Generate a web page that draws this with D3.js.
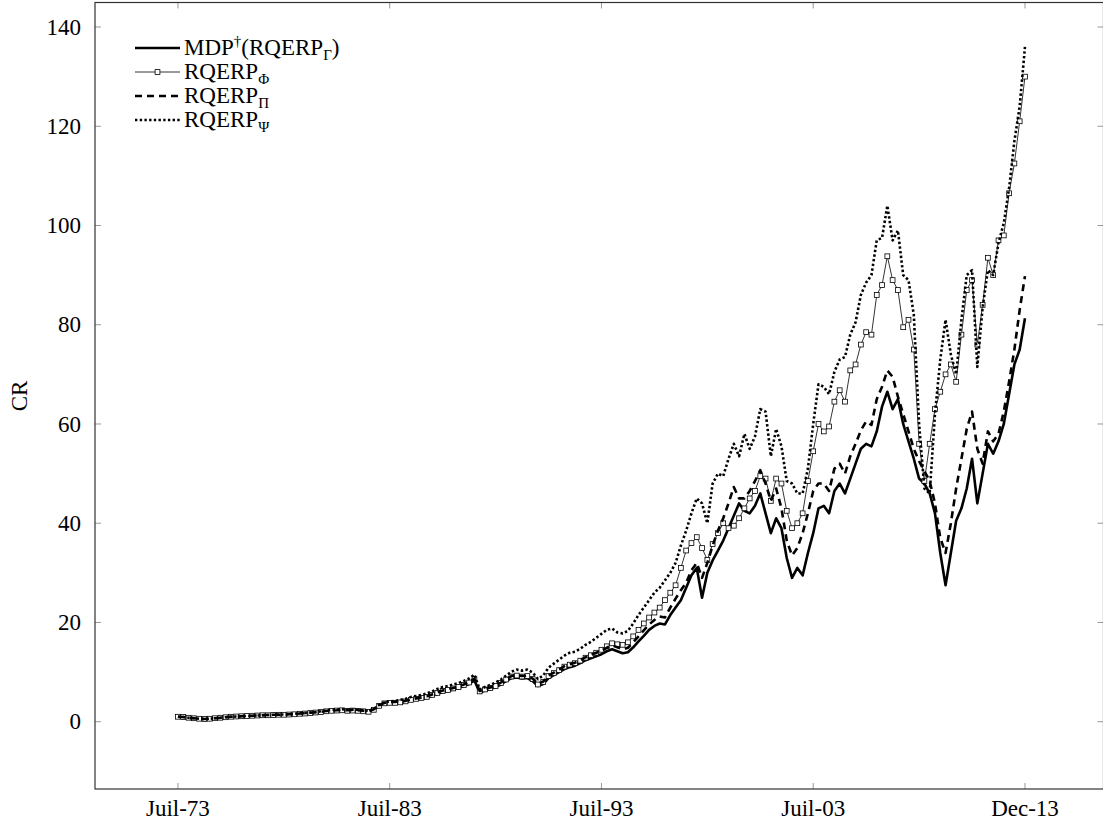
<!DOCTYPE html>
<meta charset="utf-8">
<script src="https://d3js.org/d3.v7.min.js"></script>
<style>
body { margin: 0; background: #fff; }
svg text { font-family: "Liberation Serif", "Times New Roman", serif; fill: #000; }
</style>
<div id="chart"></div>
<script>
// month index of each plotted point (quarterly, Jul-73 = 0)
const months = d3.range(0, 481, 3);
const tickMonths = [0, 120, 240, 360, 480];
const tickLabels = ['Juil-73', 'Juil-83', 'Juil-93', 'Juil-03', 'Dec-13'];
const yTicks = [0, 20, 40, 60, 80, 100, 120, 140];

// cumulative return
const mdp = [
	1.0, 0.95, 0.8, 0.7, 0.6, 0.55, 0.6, 0.7, 0.8, 0.9, 1.0, 1.05, 1.1, 1.15, 1.2, 1.25, 1.3, 1.3, 1.35, 1.4,
	1.4, 1.45, 1.5, 1.6, 1.65, 1.75, 1.85, 1.95, 2.1, 2.2, 2.25, 2.3, 2.2, 2.25, 2.2, 2.1, 2.0, 2.4, 3.2, 3.7,
	3.8, 3.8, 3.9, 4.0, 4.3, 4.5, 4.6, 4.8, 5.2, 5.6, 6.0, 6.2, 6.5, 6.8, 7.2, 7.6, 8.3, 5.9, 6.3, 6.6,
	7.0, 7.5, 8.2, 8.8, 8.9, 8.7, 8.8, 8.2, 7.2, 7.6, 8.8, 9.4, 10.0, 10.6, 11.0, 11.3, 11.8, 12.4, 12.8, 13.2,
	13.6, 14.2, 14.6, 14.2, 13.8, 14.0, 15.0, 16.2, 17.3, 18.5, 19.3, 19.8, 19.6, 21.5, 23.0, 24.5,
	27.0, 29.5, 31.0, 25.0, 30.0, 32.5, 34.5, 36.5, 39.0, 41.5, 44.0, 42.5, 42.0, 43.5, 46.0, 42.0, 38.0, 41.0, 39.0, 33.0,
	29.0, 31.0, 29.5, 34.0, 38.0, 43.0, 43.5, 42.0, 46.5, 48.0, 46.0, 49.0, 52.0, 55.0, 56.0, 55.5, 58.5, 63.5, 66.5, 63.0,
	65.0, 60.0, 56.5, 53.0, 49.0, 48.0, 46.0, 42.0, 34.0, 27.5, 34.0, 40.5, 43.0, 47.0, 53.0, 44.0, 50.0, 56.0, 54.0, 56.5,
	60.0, 66.0, 72.0, 75.0, 81.3
];
const rqerpPhi = [
	1.0, 0.95, 0.8, 0.7, 0.6, 0.55, 0.6, 0.7, 0.8, 0.9, 1.0, 1.05, 1.1, 1.15, 1.2, 1.25, 1.3, 1.3, 1.35, 1.4,
	1.4, 1.45, 1.5, 1.6, 1.65, 1.75, 1.85, 1.95, 2.1, 2.2, 2.25, 2.3, 2.2, 2.25, 2.2, 2.1, 2.0, 2.4, 3.2, 3.7,
	3.8, 3.8, 3.9, 4.1, 4.4, 4.6, 4.8, 5.0, 5.4, 5.8, 6.2, 6.4, 6.7, 7.0, 7.4, 7.9, 8.6, 6.1, 6.5, 6.8,
	7.2, 7.8, 8.5, 9.1, 9.3, 9.1, 9.2, 8.6, 7.5, 8.0, 9.2, 9.8, 10.4, 11.1, 11.5, 11.8, 12.3, 12.9, 13.4, 13.9,
	14.5, 15.2, 15.8, 15.6, 15.5, 16.0, 17.2, 18.5, 19.8, 21.0, 22.0, 23.0, 24.5, 26.0, 27.5, 31.0,
	34.5, 36.0, 37.2, 35.0, 32.6, 35.8, 38.0, 40.0, 39.0, 39.5, 41.0, 43.0, 45.0, 46.5, 49.5, 49.0, 44.5, 49.0, 48.0, 42.5,
	39.0, 40.0, 42.0, 48.5, 54.5, 60.0, 58.5, 59.5, 64.5, 66.8, 64.5, 70.8, 72.0, 76.0, 78.5, 78.0, 86.0, 88.0, 93.8, 89.0,
	87.0, 79.5, 81.0, 75.0, 56.0, 48.5, 56.0, 63.0, 66.5, 70.0, 72.0, 68.5, 78.0, 87.0, 89.0, 76.0, 84.0, 93.5, 90.0, 97.0,
	98.0, 106.5, 112.5, 121.0, 130.0
];
const rqerpPi = [
	1.0, 0.95, 0.8, 0.7, 0.6, 0.55, 0.6, 0.7, 0.8, 0.9, 1.0, 1.05, 1.1, 1.15, 1.2, 1.25, 1.3, 1.35, 1.4, 1.4,
	1.45, 1.5, 1.55, 1.65, 1.7, 1.8, 1.9, 2.0, 2.15, 2.25, 2.3, 2.4, 2.3, 2.35, 2.3, 2.2, 2.1, 2.5, 3.3, 3.8,
	4.0, 4.0, 4.1, 4.2, 4.5, 4.7, 4.9, 5.1, 5.5, 5.9, 6.3, 6.5, 6.8, 7.1, 7.5, 8.0, 8.7, 6.2, 6.6, 6.9,
	7.3, 7.9, 8.6, 9.2, 9.4, 9.2, 9.3, 8.7, 7.6, 8.1, 9.3, 9.9, 10.5, 11.2, 11.6, 11.9, 12.4, 13.0, 13.5, 13.9,
	14.3, 14.9, 15.4, 15.0, 14.6, 14.9, 16.0, 17.2, 18.4, 19.6, 20.5, 21.2, 21.0, 23.0, 24.8, 26.5,
	28.0, 30.5, 32.0, 29.0, 32.0, 35.5, 38.5, 41.0, 44.0, 47.3, 45.0, 45.0, 46.5, 48.5, 50.7, 48.0, 44.5, 47.0, 43.0, 36.5,
	33.5, 35.0, 38.0, 42.0, 46.5, 48.0, 48.0, 46.5, 51.0, 52.0, 50.0, 53.5, 56.0, 58.7, 60.5, 59.8, 65.0, 67.5, 70.8, 69.5,
	65.5, 62.0, 58.5, 55.0, 52.5, 50.5, 48.5, 44.0, 37.0, 34.0, 40.0, 47.0, 53.0, 59.0, 62.5, 55.0, 52.0, 58.5, 56.5, 58.0,
	62.5, 68.5, 75.0, 83.0, 89.8
];
const rqerpPsi = [
	1.0, 0.95, 0.8, 0.7, 0.6, 0.55, 0.6, 0.7, 0.8, 0.9, 1.0, 1.05, 1.1, 1.15, 1.2, 1.25, 1.3, 1.35, 1.4, 1.45,
	1.45, 1.5, 1.6, 1.7, 1.75, 1.85, 1.95, 2.1, 2.25, 2.4, 2.45, 2.5, 2.4, 2.45, 2.4, 2.3, 2.2, 2.6, 3.4, 3.9,
	4.1, 4.2, 4.4, 4.6, 5.0, 5.2, 5.4, 5.7, 6.1, 6.6, 7.0, 7.2, 7.5, 7.8, 8.2, 8.7, 9.5, 6.5, 7.0, 7.4,
	7.9, 8.5, 9.3, 10.1, 10.5, 10.3, 10.5, 9.9, 8.6, 9.3, 10.9, 11.7, 12.5, 13.3, 13.9, 14.1, 14.7, 15.5, 16.1, 16.9,
	17.7, 18.5, 18.8, 18.0, 17.8, 18.3, 19.8, 21.5, 23.0, 24.5, 26.0, 27.0, 28.5, 30.0, 32.0, 35.5,
	38.5, 42.0, 45.0, 44.0, 40.0, 48.0, 50.0, 49.5, 53.0, 56.0, 53.5, 58.0, 55.0, 57.5, 63.0, 62.5, 53.5, 59.0, 55.5, 48.5,
	48.0, 46.0, 46.0, 51.0, 60.0, 68.0, 67.5, 66.0, 70.5, 73.0, 73.5, 78.0, 80.5, 86.0, 88.5, 90.0, 97.0, 97.5, 104.0, 97.0,
	99.0, 90.0, 89.0, 82.0, 60.0, 47.0, 46.0, 62.0, 73.0, 81.0, 74.0, 70.0, 81.0, 90.0, 91.0, 71.5, 83.5, 91.0, 90.0, 96.5,
	100.5, 107.5, 117.0, 124.0, 136.0
];

const width = 1103, height = 829;
const margin = {left: 95, right: -0.5, top: 2.5, bottom: 40};
const W = width - margin.left - margin.right,
      H = height - margin.top - margin.bottom;

const series = [
	{values: mdp, width: 2.6, dash: null, marker: false,
	 label: [{t: 'MDP'}, {t: '†', sup: true}, {t: '(RQERP'}, {t: 'Γ', sub: true}, {t: ')'}]},
	{values: rqerpPhi, width: 0.8, dash: null, marker: true,
	 label: [{t: 'RQERP'}, {t: 'Φ', sub: true}]},
	{values: rqerpPi, width: 2.6, dash: '7,5', marker: false,
	 label: [{t: 'RQERP'}, {t: 'Π', sub: true}]},
	{values: rqerpPsi, width: 2.6, dash: '2.4,2.3', marker: false,
	 label: [{t: 'RQERP'}, {t: 'Ψ', sub: true}]},
];

const svg = d3.select('#chart').append('svg')
	.attr('width', width).attr('height', height);
const g = svg.append('g').attr('transform', `translate(${margin.left},${margin.top})`);

const x = d3.scaleLinear().domain([-47, 524.5]).range([0, W]);
const y = d3.scaleLinear().domain([-13.56, 144.94]).range([H, 0]);

// ticks (inward, on all four sides)
const tickLen = 6;
const ticks = g.append('g').attr('stroke', '#999').attr('stroke-width', 1);
tickMonths.forEach(m => {
	ticks.append('line').attr('x1', x(m)).attr('x2', x(m)).attr('y1', H).attr('y2', H - tickLen);
	ticks.append('line').attr('x1', x(m)).attr('x2', x(m)).attr('y1', 0).attr('y2', tickLen);
});
yTicks.forEach(v => {
	ticks.append('line').attr('x1', 0).attr('x2', tickLen).attr('y1', y(v)).attr('y2', y(v));
	ticks.append('line').attr('x1', W).attr('x2', W - tickLen).attr('y1', y(v)).attr('y2', y(v));
});

g.append('g').selectAll('text').data(tickMonths).join('text')
	.attr('x', d => x(d)).attr('y', H + 27)
	.attr('text-anchor', 'middle').attr('font-size', 23)
	.text((d, i) => tickLabels[i]);
g.append('g').selectAll('text').data(yTicks).join('text')
	.attr('x', -14).attr('y', d => y(d)).attr('dy', '0.33em')
	.attr('text-anchor', 'end').attr('font-size', 23)
	.text(d => d);

svg.append('text')
	.attr('transform', 'translate(27,396) rotate(-90)')
	.attr('text-anchor', 'middle').attr('font-size', 23)
	.text('CR');

// the curves
const line = d3.line().x((d, i) => x(months[i])).y(d => y(d));
series.forEach(s => {
	g.append('path').datum(s.values)
		.attr('fill', 'none').attr('stroke', '#000')
		.attr('stroke-width', s.width)
		.attr('stroke-dasharray', s.dash)
		.attr('stroke-linejoin', 'round')
		.attr('d', line);
	if (s.marker) {
		g.append('g').selectAll('rect').data(s.values).join('rect')
			.attr('x', (d, i) => x(months[i]) - 2.4).attr('y', d => y(d) - 2.4)
			.attr('width', 4.8).attr('height', 4.8)
			.attr('fill', '#fff').attr('stroke', '#000').attr('stroke-width', 0.8);
	}
});

// frame
g.append('rect').attr('width', W).attr('height', H)
	.attr('fill', 'none').attr('stroke', '#333').attr('stroke-width', 1.2);

// legend
const legend = svg.append('g').attr('transform', 'translate(135,48)');
series.forEach((s, i) => {
	const row = legend.append('g').attr('transform', `translate(0,${i * 24})`);
	row.append('line').attr('x1', 0).attr('x2', 45).attr('y1', 0).attr('y2', 0)
		.attr('stroke', '#000').attr('stroke-width', s.width)
		.attr('stroke-dasharray', s.dash);
	if (s.marker) {
		row.append('rect').attr('x', 20.1).attr('y', -2.4).attr('width', 4.8).attr('height', 4.8)
			.attr('fill', '#fff').attr('stroke', '#000').attr('stroke-width', 0.8);
	}
	const txt = row.append('text').attr('x', 49).attr('y', 7).attr('font-size', 23);
	let off = 0;
	s.label.forEach(p => {
		const target = p.sup ? -9 : p.sub ? 5 : 0;
		txt.append('tspan')
			.attr('dy', target - off)
			.attr('font-size', (p.sup || p.sub) ? 15 : 23)
			.text(p.t);
		off = target;
	});
});
</script>
